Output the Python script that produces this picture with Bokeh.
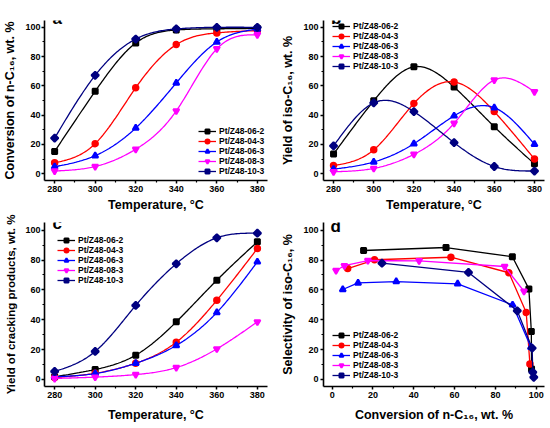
import numpy as np
from bokeh.plotting import figure
from bokeh.layouts import gridplot
from bokeh.models import Range1d, FixedTicker, Label, Legend, LegendItem
from bokeh.embed import file_html
from bokeh.resources import INLINE

# ---------------- data ----------------
T = [280, 300, 320, 340, 360, 380]
names = ["Pt/Z48-06-2", "Pt/Z48-04-3", "Pt/Z48-06-3", "Pt/Z48-08-3", "Pt/Z48-10-3"]

conv_06_2 = [15.2, 56.3, 89.3, 98.2, 99.0, 99.3]
conv_04_3 = [7.4, 20.5, 58.7, 88.2, 96.2, 97.8]
conv_06_3 = [4.7, 12.3, 31.2, 62.0, 90.0, 98.9]
conv_08_3 = [1.8, 4.9, 16.7, 42.9, 85.3, 94.9]
conv_10_3 = [24.3, 67.2, 92.0, 98.9, 100.0, 100.0]

iso_06_2 = [13.4, 49.8, 73.0, 59.2, 32.1, 6.7]
iso_04_3 = [5.6, 16.3, 48.0, 62.7, 42.4, 10.0]
iso_06_3 = [3.1, 8.0, 20.5, 39.5, 45.1, 20.1]
iso_08_3 = [1.3, 3.6, 13.2, 34.4, 64.0, 56.0]
iso_10_3 = [19.0, 48.4, 42.4, 21.2, 4.9, 1.8]

crack_06_2 = [1.8, 6.7, 16.3, 38.6, 66.5, 92.2]
crack_04_3 = [1.3, 4.2, 10.9, 25.0, 53.1, 87.7]
crack_06_3 = [1.8, 4.0, 10.9, 22.8, 44.9, 78.8]
crack_08_3 = [0.7, 1.6, 3.3, 8.0, 20.5, 38.6]
crack_10_3 = [5.4, 18.8, 49.6, 77.5, 94.9, 98.0]

selx_06_2 = [15.4, 55.8, 88.3, 96.4, 97.6, 97.7]
sely_06_2 = [86.4, 88.4, 82.2, 60.7, 32.1, 7.1]
selx_04_3 = [7.6, 20.8, 58.2, 86.6, 95.1, 96.9]
sely_04_3 = [74.3, 80.2, 81.9, 71.5, 44.9, 10.3]
selx_06_3 = [5.2, 12.7, 31.4, 61.5, 88.4, 97.4]
sely_06_3 = [60.3, 64.7, 65.6, 64.1, 50.0, 21.6]
selx_08_3 = [1.9, 6.0, 17.5, 42.6, 84.5, 94.0]
sely_08_3 = [73.0, 76.2, 79.7, 79.5, 75.7, 59.1]
selx_10_3 = [24.4, 66.8, 90.7, 98.0, 98.3, 98.8]
sely_10_3 = [77.9, 71.7, 46.0, 21.0, 4.9, 1.5]

temp_ticks = [280, 300, 320, 340, 360, 380]
temp_minor = [290, 310, 330, 350, 370]
pct_ticks = [0, 20, 40, 60, 80, 100]
pct_minor = [10, 30, 50, 70, 90]

colors = ["#000000", "#FF0000", "#0000FF", "#FF00FF", "#000080"]
markers = ["square", "circle", "triangle", "inverted_triangle", "square"]
msizes = [5, 5.5, 6, 6, 5.2]
mangles = [0, 0, 0, 0, np.pi / 4]

FONT = "Liberation Sans"


def nat_spline(x, y, n=30):
    x = np.asarray(x, float)
    y = np.asarray(y, float)
    k = len(x)
    h = np.diff(x)
    A = np.zeros((k, k))
    r = np.zeros(k)
    A[0, 0] = 1
    A[-1, -1] = 1
    for i in range(1, k - 1):
        A[i, i - 1] = h[i - 1]
        A[i, i] = 2 * (h[i - 1] + h[i])
        A[i, i + 1] = h[i]
        r[i] = 6 * ((y[i + 1] - y[i]) / h[i] - (y[i] - y[i - 1]) / h[i - 1])
    M = np.linalg.solve(A, r)
    xs, ys = [], []
    for i in range(k - 1):
        t = np.linspace(x[i], x[i + 1], n, endpoint=(i == k - 2))
        a = x[i + 1] - t
        b = t - x[i]
        s = (M[i] * a ** 3 + M[i + 1] * b ** 3) / (6 * h[i]) \
            + (y[i] / h[i] - M[i] * h[i] / 6) * a \
            + (y[i + 1] / h[i] - M[i + 1] * h[i] / 6) * b
        xs.extend(t.tolist())
        ys.extend(s.tolist())
    return xs, ys


def make_fig(width, height, bl, br, bt, bb, xr, yr, xt, xm, xlabel, ylabel,
             ylab_standoff, xlab_standoff, xmaj_standoff, ymaj_standoff,
             ylab_size="12.5px"):
    p = figure(width=width, height=height, output_backend="svg",
               toolbar_location=None, x_range=Range1d(*xr), y_range=Range1d(*yr),
               min_border_left=bl, min_border_right=br,
               min_border_top=bt, min_border_bottom=bb)
    p.grid.visible = False
    p.outline_line_color = None
    p.background_fill_color = "white"
    p.border_fill_color = "white"
    p.xaxis.ticker = FixedTicker(ticks=xt, minor_ticks=xm)
    p.yaxis.ticker = FixedTicker(ticks=pct_ticks, minor_ticks=pct_minor)
    for ax in (p.xaxis, p.yaxis):
        ax.axis_line_width = 1.6
        ax.axis_line_color = "black"
        ax.major_tick_line_width = 1.5
        ax.minor_tick_line_width = 1.2
        ax.major_tick_out = 3
        ax.major_tick_in = 0
        ax.minor_tick_out = 2
        ax.minor_tick_in = 0
        ax.major_label_text_font = FONT
        ax.major_label_text_font_style = "bold"
        ax.major_label_text_font_size = "9px"
        ax.major_label_text_color = "black"
        ax.axis_label_text_font = FONT
        ax.axis_label_text_font_style = "bold"
        ax.axis_label_text_font_size = "12.5px"
        ax.axis_label_text_color = "black"
    p.yaxis.axis_label_text_font_size = ylab_size
    p.xaxis.major_label_standoff = xmaj_standoff
    p.yaxis.major_label_standoff = ymaj_standoff
    p.xaxis.axis_label = xlabel
    p.yaxis.axis_label = ylabel
    p.yaxis.axis_label_standoff = ylab_standoff
    p.xaxis.axis_label_standoff = xlab_standoff
    return p


def add_series(p, xs_list, ys_list, smooth, loc):
    items = []
    for i in range(5):
        x = xs_list[i]
        y = ys_list[i]
        if smooth:
            lx, ly = nat_spline(x, y)
        else:
            lx, ly = x, y
        lr = p.line(lx, ly, line_color=colors[i], line_width=1.3)
        sr = p.scatter(x, y, marker=markers[i], size=msizes[i], angle=mangles[i],
                       fill_color=colors[i], line_color=colors[i], line_width=2)
        items.append(LegendItem(label=names[i], renderers=[lr, sr]))
    leg = Legend(items=items, location=loc, orientation="vertical",
                 glyph_width=18, glyph_height=10, label_height=10, spacing=0,
                 padding=0, margin=0, border_line_color=None,
                 background_fill_alpha=0, label_standoff=3,
                 label_text_font=FONT, label_text_font_style="bold",
                 label_text_font_size="8.5px", label_text_color="black")
    p.add_layout(leg)


def letter(p, txt, x, y):
    p.add_layout(Label(x=x, y=y, text=txt, text_font=FONT, text_font_style="bold",
                       text_font_size="17px", text_align="left",
                       text_baseline="alphabetic", text_color="black"))


conv_lbl = "Conversion of n-C\u2081\u2086, wt. %"

pa = make_fig(278, 214, 44, 11, 20, 30, (275, 385), (-4.67, 104.67),
              temp_ticks, temp_minor, "Temperature, \u00b0C", conv_lbl, 5, 3, 2, 1)
add_series(pa, [T] * 5, [conv_06_2, conv_04_3, conv_06_3, conv_08_3, conv_10_3],
           True, (154, 4))
letter(pa, "a", 279, 105.8)

pb = make_fig(272, 214, 45, 6, 20, 30, (275, 385), (-4.67, 104.67),
              temp_ticks, temp_minor, "Temperature, \u00b0C",
              "Yield of iso-C\u2081\u2086, wt. %", 5, 3, 2, 2)
add_series(pb, [T] * 5, [iso_06_2, iso_04_3, iso_06_3, iso_08_3, iso_10_3],
           True, (9, 109))
letter(pb, "b", 278.7, 106)

pc = make_fig(278, 214, 44, 11, 8, 42, (275, 385), (-4.69, 105.16),
              temp_ticks, temp_minor, "Temperature, \u00b0C",
              "Yield of cracking products, wt. %", 5, 7, 2, 1, ylab_size="11.5px")
add_series(pc, [T] * 5, [crack_06_2, crack_04_3, crack_06_3, crack_08_3, crack_10_3],
           True, (13, 101))
letter(pc, "c", 279, 104.8)

pd_ = make_fig(272, 214, 45, 5, 8, 42, (-4.24, 104.05), (-4.69, 105.16),
               pct_ticks, pct_minor, conv_lbl,
               "Selectivity of iso-C\u2081\u2086, %", 5, 7, 2, 2)
add_series(pd_, [selx_06_2, selx_04_3, selx_06_3, selx_08_3, selx_10_3],
           [sely_06_2, sely_04_3, sely_06_3, sely_08_3, sely_10_3], False, (9, 6))
letter(pd_, "d", -0.8, 102.8)

grid = gridplot([[pa, pb], [pc, pd_]], toolbar_location=None)

open("out.html", "w").write(file_html(grid, INLINE))
